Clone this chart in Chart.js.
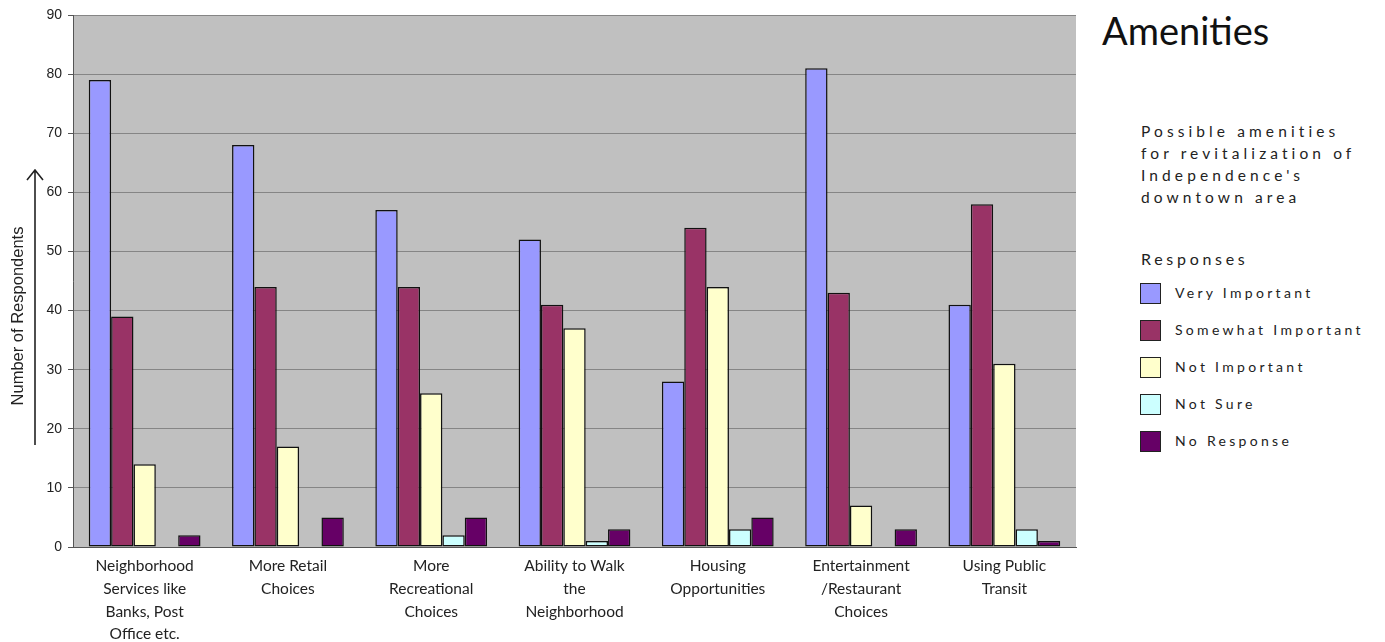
<!DOCTYPE html>
<html><head><meta charset="utf-8">
<script src="https://cdn.jsdelivr.net/npm/chart.js@4"></script>
<style>
html,body{margin:0;padding:0;background:#fff;width:1385px;height:642px;overflow:hidden;font-family:"Lato","DejaVu Sans",sans-serif;}
#wrap{position:absolute;left:0;top:0;width:1090px;height:642px;}
#title{position:absolute;left:1102px;top:11px;font-size:38px;line-height:38px;color:#111;white-space:nowrap;}
#desc{position:absolute;left:1141px;top:120px;font-size:15.5px;letter-spacing:4.1px;line-height:22px;color:#222;white-space:nowrap;}
#resp{position:absolute;left:1141px;top:251px;font-size:16px;line-height:16px;letter-spacing:3.7px;color:#222;}
.li{position:absolute;left:1140px;font-size:14px;line-height:14px;letter-spacing:3.3px;color:#222;height:14px;width:240px;}
.sw{position:absolute;left:0;top:-3px;width:19px;height:19px;border:1px solid #222;}
.lt{position:absolute;left:35px;top:0;white-space:nowrap;}
</style></head><body>
<div id="wrap"><canvas id="c" width="1090" height="642"></canvas></div>
<div id="title">Amenities</div>
<div id="desc">Possible amenities<br>for revitalization of<br>Independence's<br>downtown area</div>
<div id="resp">Responses</div>
<div id="legend"></div>
<script>
const categories = [
  ["Neighborhood","Services like","Banks, Post","Office etc."],
  ["More Retail","Choices"],
  ["More","Recreational","Choices"],
  ["Ability to Walk","the","Neighborhood"],
  ["Housing","Opportunities"],
  ["Entertainment","/Restaurant","Choices"],
  ["Using Public","Transit"]
];
const seriesNames = ["Very Important","Somewhat Important","Not Important","Not Sure","No Response"];
const veryImportant     = [79, 68, 57, 52, 28, 81, 41];
const somewhatImportant = [39, 44, 44, 41, 54, 43, 58];
const notImportant      = [14, 17, 26, 37, 44,  7, 31];
const notSure           = [ 0,  0,  2,  1,  3,  0,  3];
const noResponse        = [ 2,  5,  5,  3,  5,  3,  1];
const yTicks = [0,10,20,30,40,50,60,70,80,90];
const colors = ["#9999FF","#993366","#FFFFCC","#CCFFFF","#660066"];
const seriesData = [veryImportant, somewhatImportant, notImportant, notSure, noResponse];

// legend
const lg = document.getElementById('legend');
seriesNames.forEach((n,i)=>{
  const d = document.createElement('div');
  d.className='li'; d.style.top=(286+i*37)+'px';
  d.innerHTML = '<div class="sw" style="background:'+colors[i]+'"></div><div class="lt">'+n+'</div>';
  lg.appendChild(d);
});

const bgPlugin = {
  id:'bg',
  beforeDraw(chart){
    const {ctx, chartArea:a} = chart;
    ctx.save();
    ctx.fillStyle = '#C0C0C0';
    ctx.fillRect(a.left, a.top, a.right-a.left, a.bottom-a.top);
    ctx.restore();
  },
  afterDraw(chart){
    const {ctx} = chart;
    ctx.save();
    ctx.translate(18, 316);
    ctx.rotate(-Math.PI/2);
    ctx.font = '16.5px "Liberation Sans", Arial, sans-serif';
    ctx.fillStyle = '#222';
    ctx.textAlign='center'; ctx.textBaseline='middle';
    ctx.fillText('Number of Respondents', 0, 0);
    ctx.restore();
    ctx.save();
    ctx.strokeStyle='#222'; ctx.lineWidth=1.6;
    ctx.beginPath();
    ctx.moveTo(35, 445); ctx.lineTo(35, 170);
    ctx.moveTo(27, 180); ctx.lineTo(35, 170); ctx.lineTo(43, 180);
    ctx.stroke();
    ctx.restore();
  }
};

new Chart(document.getElementById('c'), {
  type:'bar',
  data:{
    labels: categories,
    datasets: seriesNames.map((n,i)=>({
      label:n, data:seriesData[i], backgroundColor:colors[i],
      borderColor:'#111', borderWidth:1.5, borderSkipped:false
    }))
  },
  options:{
    responsive:false, animation:false,
    layout:{padding:{left:0,top:15,right:14,bottom:0}},
    plugins:{legend:{display:false}, tooltip:{enabled:false}},
    datasets:{bar:{categoryPercentage:0.78, barPercentage:1.0}},
    scales:{
      x:{
        grid:{display:false, drawTicks:false},
        border:{color:'#555'},
        ticks:{color:'#222', font:{family:'Lato', size:15.5, lineHeight:1.46}, padding:8, maxRotation:0, autoSkip:false},
        afterFit(s){ s.height = 95; }
      },
      y:{
        min:0, max:90,
        afterBuildTicks(s){ s.ticks = yTicks.map(v=>({value:v})); },
        grid:{color:'#858585', lineWidth:1, drawTicks:true, tickLength:5, tickColor:'#555'},
        border:{color:'#555'},
        ticks:{color:'#222', font:{family:'Liberation Sans', size:14}, padding:6},
        afterFit(s){ s.width = 73; }
      }
    }
  },
  plugins:[bgPlugin]
});
</script>
</body></html>
